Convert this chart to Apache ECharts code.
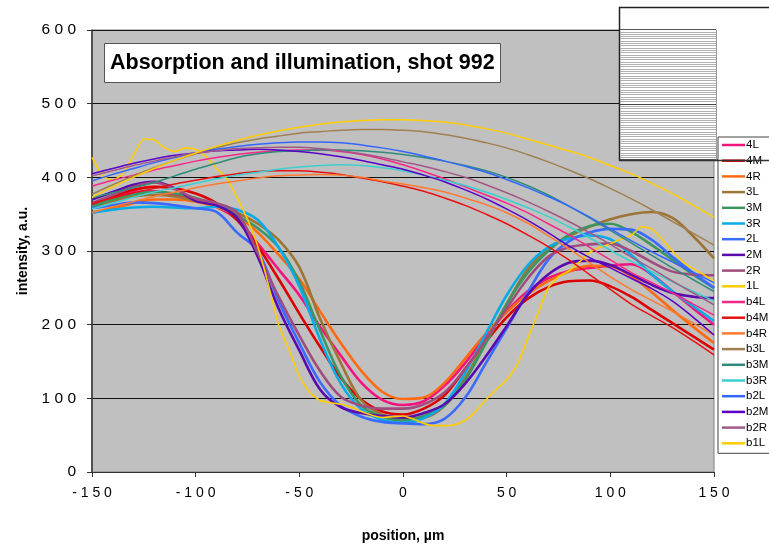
<!DOCTYPE html>
<html><head><meta charset="utf-8">
<script src="https://cdn.jsdelivr.net/npm/echarts@6/dist/echarts.min.js"></script>
<style>html,body{margin:0;padding:0;background:#fff}#c{width:769px;height:548px}</style>
</head><body><div id="c"></div>
<script>
// positions (µm)
const positions = [-150,-140,-130,-120,-110,-100,-90,-80,-70,-60,-50,-40,-30,-20,-10,0,10,20,30,40,50,60,70,80,90,100,110,120,130,140,150];
const positionsFine = [-150,-145,-140,-135,-130,-125,-120,-115,-110,-105,-100,-95,-90,-85,-80,-75,-70,-65,-60,-55,-50,-45,-40,-35,-30,-25,-20,-15,-10,-5,0,5,10,15,20,25,30,35,40,45,50,55,60,65,70,75,80,85,90,95,100,105,110,115,120,125,130,135,140,145,150];

const seriesNames = ['4L','4M','4R','3L','3M','3R','2L','2M','2R','1L','b4L','b4M','b4R','b3L','b3M','b3R','b2L','b2M','b2R','b1L'];
const seriesColors = ['#F5137E','#DD0000','#FF6A10','#9C7434','#3C9660','#0AAAE6','#3A6BFF','#5A0AAF','#A04C7E','#FFCC00',
                      '#F52888','#E81010','#FF7A30','#A08050','#2E8B7A','#3CCFCF','#3366FF','#5A00C8','#A05A88','#FFCC00'];

// absorption (dip) curves, sampled at `positions`
const s4L = [362,372,380,381,376,370,360,343,310,275,240,197,158,121,98,91,96,117,148,185,218,245,263,273,277,280,282,268,245,222,200];
const s4M = [364,374,383,387,385,378,365,342,306,262,215,170,128,98,82,78,86,104,140,177,210,235,251,259,260,252,238,220,202,184,166];
const s4R = [352,358,365,370,370,367,360,348,325,295,262,218,175,137,109,99,101,121,154,188,217,241,259,272,280,279,266,244,220,197,175];
const s3L = [360,368,374,376,374,368,362,352,337,315,278,208,148,97,78,73,74,90,128,178,228,275,303,320,333,343,350,353,345,320,290];
const s3M = [360,370,377,380,378,372,362,348,331,305,258,192,130,90,75,70,76,90,125,175,228,270,300,322,334,337,326,308,288,268,250];
const s3R = [352,356,359,360,359,358,360,356,342,305,252,180,120,85,71,67,73,92,135,188,240,280,305,317,321,316,295,268,245,225,205];
const s2L = [358,362,366,365,362,358,353,325,300,232,175,122,90,75,68,66,65,72,101,148,195,243,288,313,325,330,329,315,292,270,250];
const s2M = [370,380,390,394,385,368,362,345,292,222,165,112,88,80,76,74,80,92,120,157,198,240,268,284,287,281,268,254,243,238,236];
const s2R = [365,376,387,393,384,371,365,352,297,238,185,137,102,90,86,86,92,108,140,180,222,262,292,305,309,310,300,285,272,268,267];
// 1L sampled at `positionsFine`
const s1L = [427,402,396,405,430,452,451,440,435,440,438,428,412,398,372,343,306,255,200,166,130,108,97,94,92,88,82,77,74,75,76,72,66,63,63,64,70,82,98,112,125,145,180,215,250,265,273,285,298,305,310,316,321,333,330,316,300,285,276,268,259];

// illumination (arc) curves, sampled at `positions`
const sb4L = [388,396,403,410,416,422,427,431,434,436,437,437,435,431,425,417,408,398,387,376,365,352,337,322,305,288,271,257,243,228,213];
const sb4M = [365,372,379,385,391,396,401,405,408,409,409,407,404,399,394,388,381,372,362,350,337,322,306,288,268,248,228,212,196,178,159];
const sb4R = [352,360,367,374,380,386,391,395,399,402,403,404,403,400,395,391,386,380,372,363,352,338,321,303,284,265,248,233,218,202,186];
const sb3L = [377,390,402,413,423,432,440,447,452,456,460,462,464,465,465,464,462,458,453,447,440,431,421,410,398,385,371,356,340,324,308];
const sb3M = [372,379,386,393,402,411,419,427,432,435,436,437,437,436,434,431,427,422,416,409,400,389,376,361,345,328,311,294,277,261,245];
const sb3R = [357,365,373,380,386,392,398,403,407,411,414,416,417,416,413,409,403,396,389,380,370,359,347,333,318,301,286,272,258,245,232];
const sb2L = [395,404,412,420,427,433,438,442,445,447,448,448,447,444,440,435,429,422,415,407,397,386,374,361,346,330,314,299,285,271,257];
const sb2M = [405,412,419,425,430,433,436,437,438,437,435,432,428,423,417,411,403,394,383,371,357,342,325,307,291,277,263,249,232,210,186];
const sb2R = [402,409,416,422,428,433,436,439,440,441,441,439,436,432,427,421,415,408,400,390,379,367,354,340,325,309,292,276,259,243,227];
const sb1L = [373,387,400,412,423,433,442,450,457,463,468,472,475,477,478,478,477,475,471,466,460,452,444,436,427,416,405,392,378,362,346];

const titleText = 'Absorption and illumination, shot 992';
const xName = 'position, µm';
const yName = 'intensity, a.u.';

const seriesValues = [s4L,s4M,s4R,s3L,s3M,s3R,s2L,s2M,s2R,s1L,sb4L,sb4M,sb4R,sb3L,sb3M,sb3R,sb2L,sb2M,sb2R,sb1L];

const FONT = '"Liberation Sans", Arial, sans-serif';
const series = seriesNames.map((name, i) => {
  const xs = name === '1L' ? positionsFine : positions;
  const vals = seriesValues[i];
  const thick = i < 9;
  return {
    name, type: 'line', symbol: 'none', showSymbol: false,
    smooth: name === '1L' ? 0.15 : 0.35,
    animation: false,
    color: seriesColors[i],
    lineStyle: { width: thick ? 2.6 : (name === '1L' ? 1.6 : 1.5), color: seriesColors[i] },
    data: xs.map((x, k) => [x, vals[k]]),
    z: 2 + i * 0.01
  };
});

const spaced = v => String(v).split('').join(' ');

// decorative striped box (top right)
const stripes = [];
for (let y = 31.5; y < 159; y += 2.33) {
  stripes.push({ type: 'line', shape: { x1: 620, y1: Math.round(y) + 0.5, x2: 716, y2: Math.round(y) + 0.5 }, style: { stroke: '#b0b0b0', lineWidth: 1 }, z: 3, silent: true });
}

const chart = echarts.init(document.getElementById('c'), null, { renderer: 'canvas' });
chart.setOption({
  animation: false,
  backgroundColor: '#fff',
  title: {
    text: titleText, left: 104, top: 43,
    backgroundColor: '#fff', borderColor: '#555', borderWidth: 1,
    padding: [9, 6, 9, 6],
    textStyle: { fontFamily: FONT, fontWeight: 'bold', fontSize: 21.5, color: '#000' }
  },
  grid: { left: 92, right: 55, top: 30, bottom: 73, show: true, backgroundColor: '#C0C0C0', borderColor: '#808080', borderWidth: 1 },
  legend: {
    orient: 'vertical', left: 718, top: 137,
    padding: [2, 60, 4, 4], itemGap: 3.7, itemWidth: 23, itemHeight: 2.5,
    icon: 'rect',
    backgroundColor: '#fff', borderColor: '#444', borderWidth: 1,
    textStyle: { fontFamily: FONT, fontSize: 11.5, color: '#000', lineHeight: 12, padding: [0,0,0,-4] },
    data: seriesNames
  },
  xAxis: {
    type: 'value', min: -150, max: 150, interval: 50,
    name: xName, nameLocation: 'middle', nameGap: 57,
    nameTextStyle: { fontFamily: FONT, fontWeight: 'bold', fontSize: 14, color: '#000' },
    axisLine: { show: true, onZero: false, lineStyle: { color: '#333', width: 1 } },
    axisTick: { show: true, length: 5, lineStyle: { color: '#333' } },
    axisLabel: { fontFamily: FONT, fontSize: 14, color: '#000', margin: 14, formatter: spaced },
    splitLine: { show: false }
  },
  yAxis: {
    type: 'value', min: 0, max: 600, interval: 100,
    name: yName, nameLocation: 'middle', nameGap: 62, nameRotate: 90,
    nameTextStyle: { fontFamily: FONT, fontWeight: 'bold', fontSize: 14, color: '#000' },
    axisLine: { show: true, onZero: false, lineStyle: { color: '#333', width: 1.5 } },
    axisTick: { show: true, length: 5, lineStyle: { color: '#333' } },
    axisLabel: { fontFamily: FONT, fontSize: 15.5, color: '#000', margin: 16, formatter: spaced },
    splitLine: { show: true, lineStyle: { color: '#111', width: 1 } }
  },
  graphic: [
    { type: 'rect', shape: { x: 619.5, y: 7.5, width: 170, height: 152.5 }, style: { fill: '#fff', stroke: '#222', lineWidth: 1.5 }, z: 3, silent: true },
    ...stripes,
    { type: 'line', shape: { x1: 620, y1: 29.5, x2: 716, y2: 29.5 }, style: { stroke: '#555', lineWidth: 1.2 }, z: 3, silent: true },
    { type: 'line', shape: { x1: 620, y1: 104.5, x2: 716, y2: 104.5 }, style: { stroke: '#444', lineWidth: 1.2 }, z: 3, silent: true },
    { type: 'line', shape: { x1: 716.5, y1: 30, x2: 716.5, y2: 160 }, style: { stroke: '#999', lineWidth: 1 }, z: 3, silent: true },
    { type: 'line', shape: { x1: 619, y1: 160.5, x2: 769, y2: 160.5 }, style: { stroke: '#333', lineWidth: 1.5 }, z: 20, silent: true }
  ],
  series
});
</script></body></html>
